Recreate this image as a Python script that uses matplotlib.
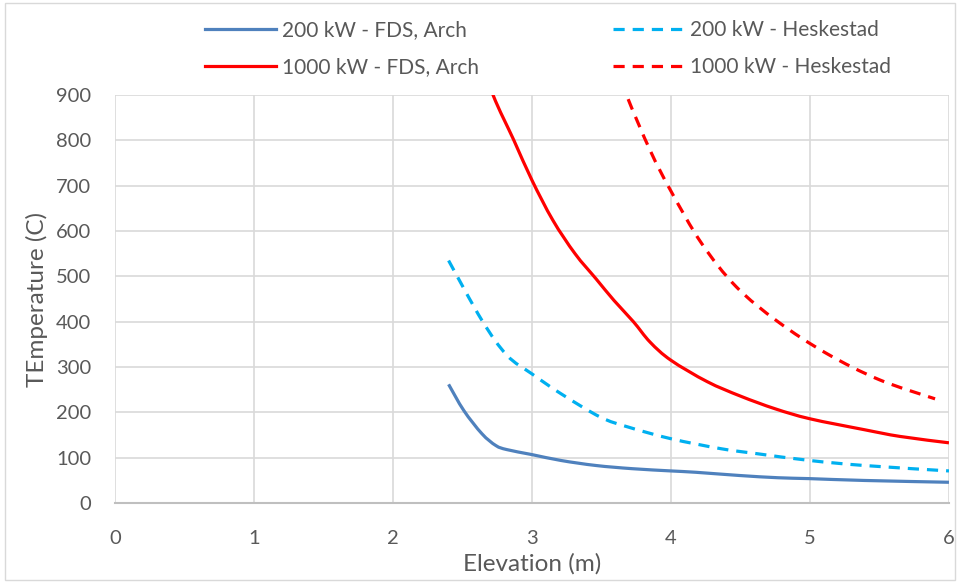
import matplotlib
matplotlib.use("Agg")
import numpy as np
import matplotlib.pyplot as plt
from matplotlib.patches import Rectangle, PathPatch
from matplotlib.path import Path
from matplotlib.lines import Line2D

# values (Excel smoothed lines)
x_fds_200 = [2.4, 2.51, 2.64, 2.74, 2.82, 3.0, 3.21, 3.46, 3.72, 4.0, 4.18, 4.49, 4.77, 5.0, 5.39, 6.0]
t_fds_200 = [262, 204, 153, 127, 118, 107, 94, 83, 76, 71, 68, 61, 56, 54, 50, 46]

x_hes_200 = [2.4, 2.64, 2.82, 3.0, 3.21, 3.49, 3.69, 4.0, 4.36, 4.62, 5.0, 5.39, 6.0]
t_hes_200 = [535, 403, 326, 285, 241, 190, 168, 142, 120, 109, 94, 83, 71]

x_fds_1000 = [2.6, 2.72, 2.87, 3.0, 3.15, 3.31, 3.46, 3.59, 3.73, 3.85, 4.0, 4.26, 4.5, 4.75, 5.0, 5.39, 5.65, 6.0]
t_fds_1000 = [1010, 900, 800, 712, 624, 550, 495, 447, 400, 355, 315, 268, 236, 208, 186, 162, 147, 133]

x_hes_1000 = [3.55, 3.68, 3.85, 4.0, 4.22, 4.47, 4.77, 5.12, 5.5, 5.9]
t_hes_1000 = [1010, 900, 778, 688, 573, 477, 400, 330, 272, 230]

labels = ["200 kW - FDS, Arch", "200 kW - Heskestad", "1000 kW - FDS, Arch", "1000 kW - Heskestad"]
colors = ['#4F81BD', '#00B0F0', '#FF0000', '#FF0000']

plt.rcParams['font.family'] = ['Lato', 'DejaVu Sans']
txt = '#595959'


def smooth_path(xs, ys, k=1 / 6):
    # Catmull-Rom style bezier through the points, like Excel's smoothed line
    p = np.column_stack([xs, ys]).astype(float)
    verts = [p[0]]
    codes = [Path.MOVETO]
    n = len(p)
    for i in range(n - 1):
        p0 = p[max(i - 1, 0)]
        p1 = p[i]
        p2 = p[i + 1]
        p3 = p[min(i + 2, n - 1)]
        c1 = p1 + (p2 - p0) * k
        c2 = p2 - (p3 - p1) * k
        verts += [c1, c2, p2]
        codes += [Path.CURVE4] * 3
    return Path(verts, codes)


fig = plt.figure(figsize=(9.6, 5.83), dpi=100)
ax = fig.add_axes([0.1198, 0.137, 0.8687, 0.7])

dash = (3.5, 2.5)
series = [(x_fds_200, t_fds_200), (x_hes_200, t_hes_200), (x_fds_1000, t_fds_1000), (x_hes_1000, t_hes_1000)]
handles = []
for i, (xs, ys) in enumerate(series):
    ls = (0, dash) if i % 2 else '-'
    ax.add_patch(PathPatch(smooth_path(xs, ys), fill=False, edgecolor=colors[i], lw=2.3,
                           linestyle=ls, capstyle='butt', joinstyle='round'))
    handles.append(Line2D([], [], color=colors[i], lw=2.3, linestyle=ls, label=labels[i]))

ax.set_xlim(0, 6)
ax.set_ylim(0, 900)
ax.set_xticks(range(0, 7))
ax.set_yticks(range(0, 901, 100))
ax.grid(True, color='#d9d9d9', lw=1.2)
ax.set_axisbelow(True)
for s in ['top', 'left', 'right']:
    ax.spines[s].set_visible(False)
ax.spines['bottom'].set_color('#bfbfbf')
ax.spines['bottom'].set_linewidth(1.5)
ax.tick_params(length=0, labelsize=14.5, colors=txt)
ax.tick_params(axis='x', pad=19)
ax.tick_params(axis='y', pad=17)
ax.set_xlabel('Elevation (m)', fontsize=17.5, color=txt, labelpad=5)
ax.set_ylabel('TEmperature (C)', fontsize=17.5, color=txt, labelpad=6)

# column-major fill -> order so rows read 200 kW / 1000 kW
order = [0, 2, 1, 3]
fig.legend(handles=[handles[i] for i in order], loc='upper center', bbox_to_anchor=(0.571, 0.997),
           ncol=2, frameon=False, fontsize=15, handlelength=3.4, columnspacing=6.4,
           labelcolor=txt, handletextpad=0.3, labelspacing=0.8)

fig.patches.append(Rectangle((0.005, 0.005), 0.99, 0.99, transform=fig.transFigure,
                             fill=False, edgecolor='#d9d9d9', lw=1))

fig.savefig('out.png', dpi=100)
